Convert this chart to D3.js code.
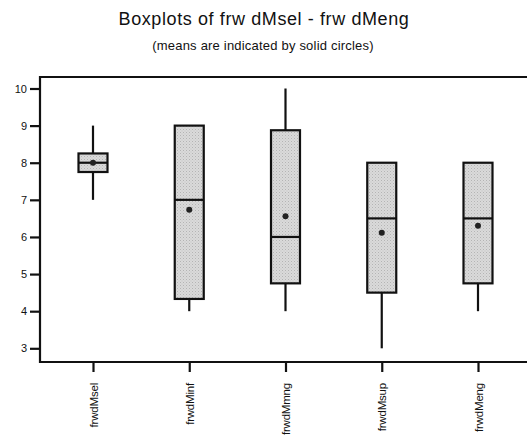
<!DOCTYPE html>
<html>
<head>
<meta charset="utf-8">
<script src="https://cdn.jsdelivr.net/npm/d3@7"></script>
<style>
  html, body { margin: 0; padding: 0; background: #fff; }
  svg { display: block; font-family: "Liberation Sans", Arial, sans-serif; }
</style>
</head>
<body>
<svg id="chart" width="527" height="439"></svg>
<script>
// Five-number summaries and means per variable
const categories = ["frwdMsel", "frwdMinf", "frwdMmng", "frwdMsup", "frwdMeng"];
const whiskerLow  = [7,    4,    4,     3,   4];
const q1          = [7.75, 4.33, 4.75,  4.5, 4.75];
const median      = [8,    7,    6,     6.5, 6.5];
const q3          = [8.25, 9,    8.875, 8,   8];
const whiskerHigh = [9,    9,    10,    8,   8];
const means       = [8,    6.73, 6.56,  6.11, 6.3];
const yTicks      = [3, 4, 5, 6, 7, 8, 9, 10];

const svg = d3.select("#chart");
const ink = "#111";
const sw = 2.2;

// Stippled grey fill for the boxes
const defs = svg.append("defs");
const pat = defs.append("pattern")
  .attr("id", "stipple").attr("patternUnits", "userSpaceOnUse")
  .attr("width", 3).attr("height", 3);
pat.append("rect").attr("width", 3).attr("height", 3).attr("fill", "#dadada");
pat.append("rect").attr("x", 0).attr("y", 0).attr("width", 1).attr("height", 1).attr("fill", "#b4b4b4");
pat.append("rect").attr("x", 1.5).attr("y", 1.5).attr("width", 1).attr("height", 1).attr("fill", "#c4c4c4");

const frame = { left: 40, right: 540, top: 77, bottom: 362 };

const y = d3.scaleLinear().domain([3, 10]).range([348.3, 88.5]);
const x = d3.scalePoint().domain(categories).range([93, 478]);
const boxW = 29;

// Titles
svg.append("text").attr("x", 264).attr("y", 25)
  .attr("text-anchor", "middle").attr("font-size", 18).attr("fill", ink)
  .attr("letter-spacing", 0.6)
  .text("Boxplots of frw dMsel - frw dMeng");
svg.append("text").attr("x", 263).attr("y", 50)
  .attr("text-anchor", "middle").attr("font-size", 13).attr("fill", ink)
  .attr("letter-spacing", 0.2)
  .text("(means are indicated by solid circles)");

// Plot frame (top and left/bottom axes)
svg.append("path")
  .attr("d", `M${frame.right},${frame.top}H${frame.left}V${frame.bottom}H${frame.right}`)
  .attr("fill", "none").attr("stroke", ink).attr("stroke-width", sw);

// Y axis
const yAxis = svg.append("g").attr("transform", `translate(${frame.left},0)`)
  .call(d3.axisLeft(y).tickValues(yTicks).tickSize(10).tickPadding(3).tickFormat(d3.format("d")));
yAxis.select(".domain").remove();
yAxis.selectAll(".tick line").attr("stroke", ink).attr("stroke-width", sw);
yAxis.selectAll(".tick text").attr("font-size", 11).attr("fill", ink)
  .attr("font-family", "\"Liberation Sans\", Arial, sans-serif");

// X axis with rotated labels
const xAxis = svg.append("g").attr("transform", `translate(0,${frame.bottom})`)
  .call(d3.axisBottom(x).tickSize(10).tickPadding(0));
xAxis.select(".domain").remove();
xAxis.selectAll(".tick line").attr("stroke", ink).attr("stroke-width", sw);
xAxis.selectAll(".tick text")
  .attr("font-size", 11.5).attr("fill", ink)
  .attr("font-family", "\"Liberation Sans\", Arial, sans-serif")
  .attr("letter-spacing", -0.2)
  .attr("transform", "rotate(-90)")
  .attr("text-anchor", "end")
  .attr("x", -21).attr("y", 4).attr("dy", 0);

// Boxplots
const data = categories.map((c, i) => ({
  c, lo: whiskerLow[i], q1: q1[i], med: median[i], q3: q3[i], hi: whiskerHigh[i], mean: means[i]
}));

const g = svg.append("g");
const box = g.selectAll("g.box").data(data).join("g").attr("class", "box");

box.append("line")
  .attr("x1", d => x(d.c)).attr("x2", d => x(d.c))
  .attr("y1", d => y(d.hi)).attr("y2", d => y(d.q3))
  .attr("stroke", ink).attr("stroke-width", sw);
box.append("line")
  .attr("x1", d => x(d.c)).attr("x2", d => x(d.c))
  .attr("y1", d => y(d.q1)).attr("y2", d => y(d.lo))
  .attr("stroke", ink).attr("stroke-width", sw);
box.append("rect")
  .attr("x", d => x(d.c) - boxW / 2).attr("width", boxW)
  .attr("y", d => y(d.q3)).attr("height", d => y(d.q1) - y(d.q3))
  .attr("fill", "url(#stipple)").attr("stroke", ink).attr("stroke-width", sw);
box.append("line")
  .attr("x1", d => x(d.c) - boxW / 2).attr("x2", d => x(d.c) + boxW / 2)
  .attr("y1", d => y(d.med)).attr("y2", d => y(d.med))
  .attr("stroke", ink).attr("stroke-width", sw);
box.append("circle")
  .attr("cx", d => x(d.c)).attr("cy", d => y(d.mean)).attr("r", 3)
  .attr("fill", "#222");
</script>
</body>
</html>
